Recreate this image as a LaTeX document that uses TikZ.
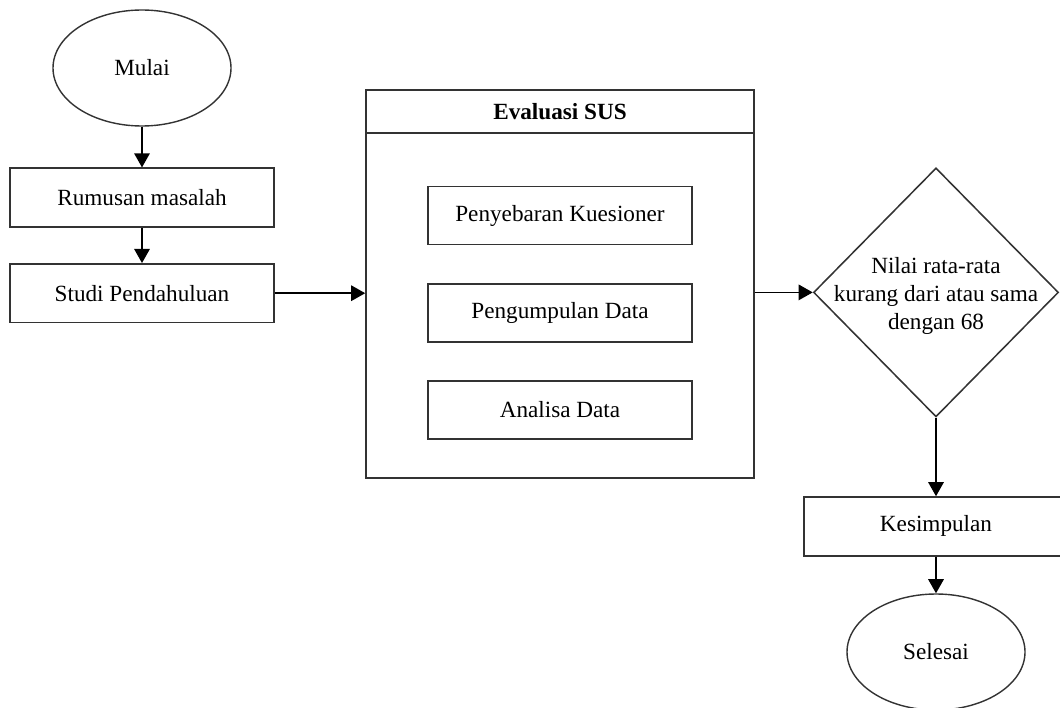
\documentclass[tikz,border=0pt]{standalone}
\usepackage{fontspec}
\setmainfont{Liberation Serif}
\usetikzlibrary{arrows.meta,shapes}

\begin{document}
\begin{tikzpicture}[->,>={Triangle[length=10pt,width=11pt]},line width=1.1pt,node distance=2.4cm]
        \tikzstyle{every node}=[font=\fontsize{16.5}{20}\selectfont]
        \tikzstyle{proses}=[rectangle, draw=black!80, minimum width=6.6cm, minimum height=1.47cm]
        \tikzstyle{terminal}=[ellipse, draw=black!80, line width=1pt, minimum width=4.45cm, minimum height=2.9cm]

        \clip (0,0) rectangle (26.5,-17.7);

        \node[terminal]  (mulai)     at (3.55,-1.7)                        {Mulai};
        \node[proses]    (rumusan)   [below of=mulai, node distance=3.24cm]  {Rumusan masalah};
        \node[proses]    (studi)     [below of=rumusan, node distance=2.39cm] {Studi Pendahuluan};

        % evaluasi SUS
        \node[proses, minimum width=9.7cm, minimum height=9.7cm] (evaluasi) at (14.0,-7.1) {};
        \node[proses, minimum width=9.7cm, minimum height=1.075cm, anchor=north,
              font=\fontsize{16.5}{20}\selectfont\bfseries] (judul) at (evaluasi.north) {Evaluasi SUS};
        \node[proses, minimum height=1.45cm] (sebar)   at (14.0,-5.39)                    {Penyebaran Kuesioner};
        \node[proses, minimum height=1.45cm] (kumpul)  [below of=sebar, node distance=2.43cm]  {Pengumpulan Data};
        \node[proses, minimum height=1.45cm] (analisa) [below of=kumpul, node distance=2.43cm] {Analisa Data};

        % keputusan
        \node[diamond, draw=black!80, inner sep=0pt, minimum width=6.125cm, minimum height=6.225cm] (nilai) at (23.4,-7.31) {};
        \node[align=center] (nilaiteks) at ([yshift=-0.08cm]nilai.center) {Nilai rata-rata\\kurang dari atau sama\\dengan 68};

        \node[proses]    (kesimpulan) [below of=nilai, node distance=5.85cm]      {Kesimpulan};
        \node[terminal]  (selesai)    [below of=kesimpulan, node distance=3.14cm] {Selesai};

        \path (mulai)      edge (rumusan)
              (rumusan)    edge (studi)
              (studi)      edge (studi -| evaluasi.west)
              (evaluasi.east |- nilai.west) edge (nilai.west)
              (nilai)      edge (kesimpulan)
              (kesimpulan) edge (selesai);
\end{tikzpicture}
\end{document}
